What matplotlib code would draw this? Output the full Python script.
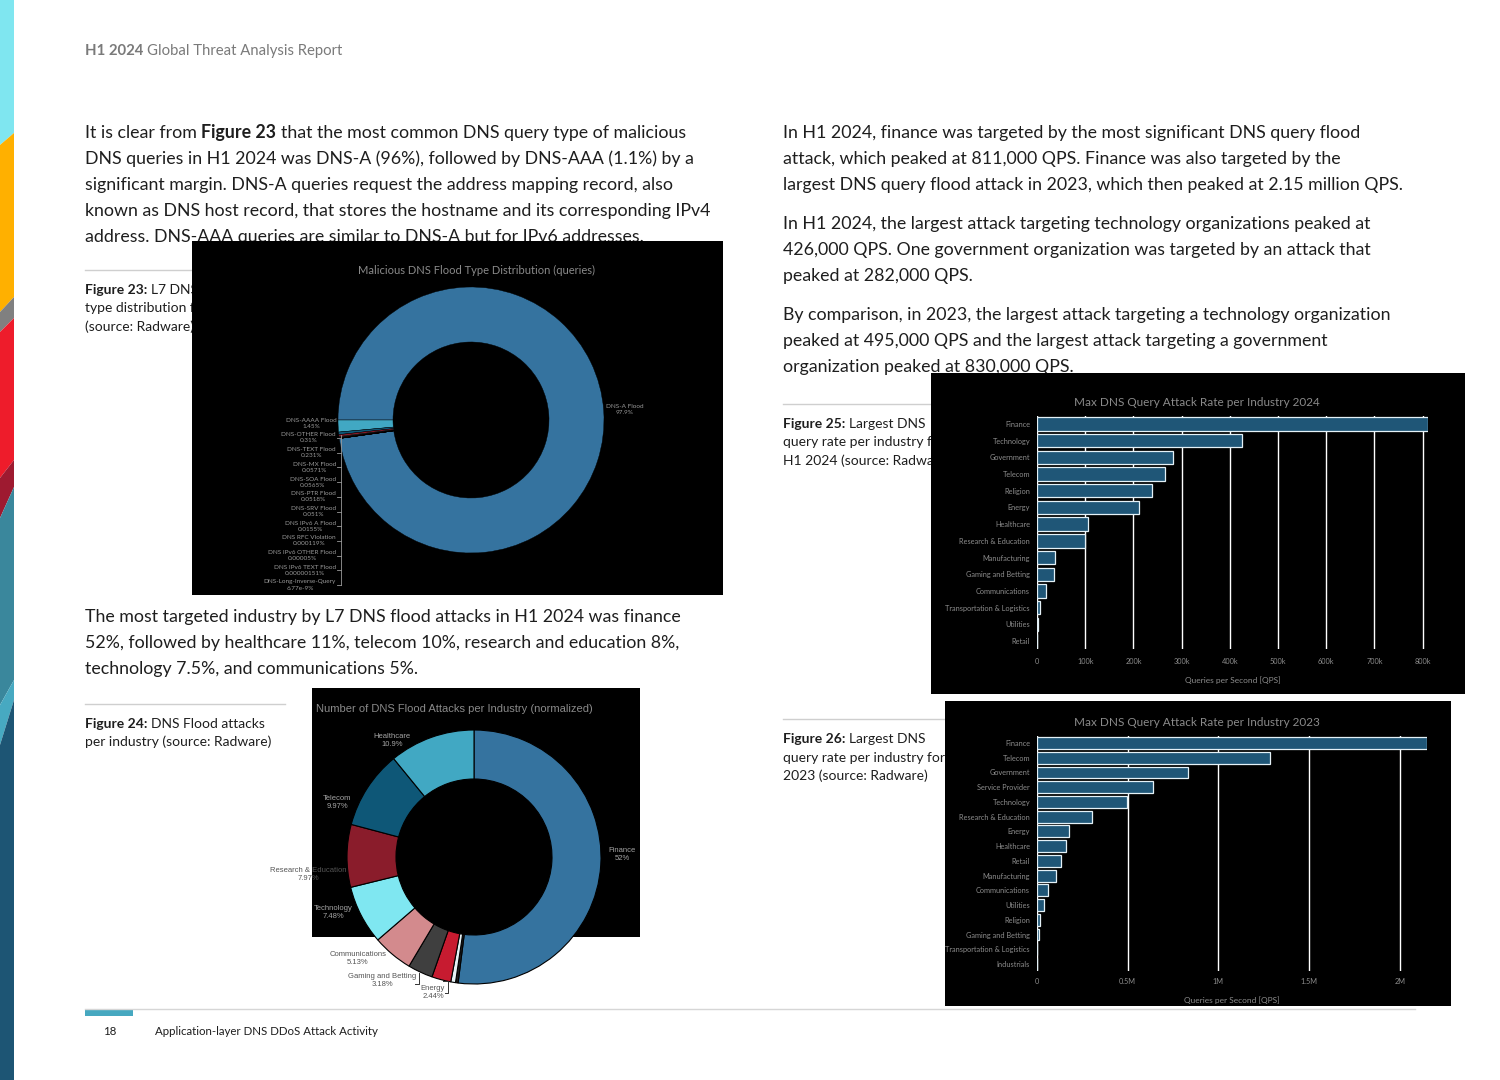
import matplotlib.pyplot as plt
from matplotlib.patches import Rectangle, Polygon

W, H = 1500, 1080
BODY = 'Lato'
INK = '#1e1e1e'
GREY = '#8c8c8c'

# Figure 23 - DNS flood types (share of queries, %)
dns_types = ['DNS-A Flood', 'DNS-AAAA Flood', 'DNS-OTHER Flood', 'DNS-TEXT Flood', 'DNS-MX Flood',
             'DNS-SOA Flood', 'DNS-PTR Flood', 'DNS-SRV Flood', 'DNS IPv6 A Flood', 'DNS RFC Violation',
             'DNS IPv6 OTHER Flood', 'DNS IPv6 TEXT Flood', 'DNS-Long-Inverse-Query']
dns_share = [97.9, 1.45, 0.31, 0.231, 0.0571, 0.0565, 0.0518, 0.051, 0.0155, 0.000119,
             0.00005, 0.00000151, 6.77e-9]
dns_pct = ['97.9%', '1.45%', '0.31%', '0.231%', '0.0571%', '0.0565%', '0.0518%', '0.051%',
           '0.0155%', '0.000119%', '0.00005%', '0.00000151%', '6.77e-9%']
palette = ['#35739f', '#41a8c3', '#0e5777', '#8a1c2b', '#7fe7f1', '#d38a8d', '#3f3f3f',
           '#c71b30', '#e6f2f5', '#1e1e1e', '#35739f', '#41a8c3', '#0e5777']

# Figure 24 - attacks per industry (normalized, %)
ind_names = ['Finance', 'Healthcare', 'Telecom', 'Research & Education', 'Technology',
             'Communications', 'Gaming and Betting', 'Energy', '', '']
ind_share = [52, 10.9, 9.97, 7.97, 7.48, 5.13, 3.18, 2.44, 0.6, 0.33]
ind_pct = ['52%', '10.9%', '9.97%', '7.97%', '7.48%', '5.13%', '3.18%', '2.44%', '', '']

# Figure 25 - max QPS per industry, H1 2024
ind24 = ['Finance', 'Technology', 'Government', 'Telecom', 'Religion', 'Energy', 'Healthcare',
         'Research & Education', 'Manufacturing', 'Gaming and Betting', 'Communications',
         'Transportation & Logistics', 'Utilities', 'Retail']
qps24 = [811000, 426000, 282000, 266000, 238000, 211000, 106000, 99000, 37500, 35500,
         19000, 5700, 2000, 600]
ticks24 = [0, 100000, 200000, 300000, 400000, 500000, 600000, 700000, 800000]
ticklab24 = ['0', '100k', '200k', '300k', '400k', '500k', '600k', '700k', '800k']

# Figure 26 - max QPS per industry, 2023
ind23 = ['Finance', 'Telecom', 'Government', 'Service Provider', 'Technology',
         'Research & Education', 'Energy', 'Healthcare', 'Retail', 'Manufacturing',
         'Communications', 'Utilities', 'Religion', 'Gaming and Betting',
         'Transportation & Logistics', 'Industrials']
qps23 = [2150000, 1286000, 830000, 638000, 495000, 304000, 177000, 161000, 133000, 106000,
         62000, 40000, 18000, 9000, 2000, 1000]
ticks23 = [0, 500000, 1000000, 1500000, 2000000]
ticklab23 = ['0', '0.5M', '1M', '1.5M', '2M']


def frac(x0, y0, x1, y1):
    return [x0 / W, 1 - y1 / H, (x1 - x0) / W, (y1 - y0) / H]


fig = plt.figure(figsize=(15, 10.8), dpi=100)
rend = fig.canvas.get_renderer()
pg = fig.add_axes([0, 0, 1, 1], zorder=0)
pg.set_xlim(0, W)
pg.set_ylim(H, 0)
pg.axis('off')

# coloured strip on the left edge
stripe_cols = ['#7fe6f0', '#ffb000', '#808080', '#ee1c2b', '#9e1a30', '#3a879c', '#47a9c1', '#1d5574']
cuts = [(0, 0), (133, 145), (297, 312), (318, 332), (460, 478), (487, 518), (680, 705), (700, 745), (H, H)]
for i, c in enumerate(stripe_cols):
    pg.add_patch(Polygon([(0, cuts[i][1]), (14, cuts[i][0]), (14, cuts[i + 1][0]), (0, cuts[i + 1][1])],
                         closed=True, color=c, lw=0))


def line(x, y, runs, size, color=INK, family=BODY):
    a = pg.text(0, 0, 'x x', fontsize=size, family=family)
    b = pg.text(0, 0, 'xx', fontsize=size, family=family)
    sp = a.get_window_extent(rend).width - b.get_window_extent(rend).width
    a.remove()
    b.remove()
    for s, bold in runs:
        t = pg.text(x, y, s, fontsize=size, color=color, family=family,
                    fontweight='bold' if bold else 'normal', va='baseline', zorder=2)
        x += t.get_window_extent(rend).width + sp


def para(x, y0, lines, size=12.8, step=26):
    for k, ln in enumerate(lines):
        runs = ln if isinstance(ln, list) else [(ln, False)]
        line(x, y0 + k * step, runs, size)


line(85, 55, [('H1 2024', True), ('Global Threat Analysis Report', False)], 10.7, color='#7a7a7a')

para(85, 138, [
    [('It is clear from', False), ('Figure 23', True), ('that the most common DNS query type of malicious', False)],
    'DNS queries in H1 2024 was DNS-A (96%), followed by DNS-AAA (1.1%) by a',
    'significant margin. DNS-A queries request the address mapping record, also',
    'known as DNS host record, that stores the hostname and its corresponding IPv4',
    'address. DNS-AAA queries are similar to DNS-A but for IPv6 addresses.'])
para(85, 622, [
    'The most targeted industry by L7 DNS flood attacks in H1 2024 was finance',
    '52%, followed by healthcare 11%, telecom 10%, research and education 8%,',
    'technology 7.5%, and communications 5%.'])
para(783, 138, [
    'In H1 2024, finance was targeted by the most significant DNS query flood',
    'attack, which peaked at 811,000 QPS. Finance was also targeted by the',
    'largest DNS query flood attack in 2023, which then peaked at 2.15 million QPS.'])
para(783, 229, [
    'In H1 2024, the largest attack targeting technology organizations peaked at',
    '426,000 QPS. One government organization was targeted by an attack that',
    'peaked at 282,000 QPS.'])
para(783, 320, [
    'By comparison, in 2023, the largest attack targeting a technology organization',
    'peaked at 495,000 QPS and the largest attack targeting a government',
    'organization peaked at 830,000 QPS.'])

# figure captions
caps = [
    (85, 270, 200, [[('Figure 23:', True), ('L7 DNS flood', False)], 'type distribution for H1 2024', '(source: Radware)']),
    (85, 704, 285, [[('Figure 24:', True), ('DNS Flood attacks', False)], 'per industry (source: Radware)']),
    (783, 404, 940, [[('Figure 25:', True), ('Largest DNS', False)], 'query rate per industry for', 'H1 2024 (source: Radware)']),
    (783, 719, 950, [[('Figure 26:', True), ('Largest DNS', False)], 'query rate per industry for', '2023 (source: Radware)']),
]
for x, y, x1, lns in caps:
    pg.plot([x, x1], [y, y], color='#cfcfcf', lw=1, zorder=1)
    para(x, y + 24, lns, size=10, step=18.5)

# footer
pg.plot([85, 1415], [1009, 1009], color='#d6d6d6', lw=1)
pg.add_patch(Rectangle((85, 1009), 48, 7, color='#46a8c0', lw=0))
pg.text(103, 1035, '18', fontsize=8.3, family=BODY, color=INK, va='baseline')
pg.text(155, 1035, 'Application-layer DNS DDoS Attack Activity', fontsize=8.3, family=BODY,
        color=INK, va='baseline')

# black chart backgrounds (cover the text they overlap)
for x0, y0, x1, y1 in [(192, 241, 723, 595), (312, 688, 640, 937), (931, 373, 1465, 694), (945, 701, 1451, 1006)]:
    pg.add_patch(Rectangle((x0, y0), x1 - x0, y1 - y0, color='black', lw=0, zorder=3))

pg.text(477, 270, 'Malicious DNS Flood Type Distribution (queries)', fontsize=8, family=BODY,
        color='#8a8a8a', ha='center', va='center', zorder=4)
pg.text(316, 709, 'Number of DNS Flood Attacks per Industry (normalized)', fontsize=8,
        family='Liberation Sans', color='#8a8a8a', ha='left', va='center', zorder=4)
pg.text(1197, 402, 'Max DNS Query Attack Rate per Industry 2024', fontsize=8.5, family=BODY,
        color='#8a8a8a', ha='center', va='center', zorder=4)
pg.text(1197, 722, 'Max DNS Query Attack Rate per Industry 2023', fontsize=8.5, family=BODY,
        color='#8a8a8a', ha='center', va='center', zorder=4)

# donuts on an overlay with y pointing up
ov = fig.add_axes([0, 0, 1, 1], zorder=3)
ov.set_facecolor('none')

start1 = 180 - 360 * dns_share[0] / sum(dns_share)
ov.pie(dns_share, colors=palette, startangle=start1, counterclock=True,
       center=(471, H - 420), radius=133,
       wedgeprops=dict(width=55, edgecolor='black', linewidth=0.3))
lab1 = '#9a9a9a'
ov.text(625, H - 409, dns_types[0] + '\n' + dns_pct[0], fontsize=4.6, family=BODY, color=lab1,
        ha='center', va='center', linespacing=1.25)
ov.text(337, H - 423, dns_types[1] + '\n' + dns_pct[1], fontsize=4.6, family=BODY, color=lab1,
        ha='right', va='center', multialignment='center', linespacing=1.25)
ys = [438 + 14.7 * k for k in range(len(dns_types) - 2)]
for k, yy in enumerate(ys):
    ov.text(336, H - yy, dns_types[k + 2] + '\n' + dns_pct[k + 2], fontsize=4.6, family=BODY,
            color=lab1, ha='right', va='center', multialignment='center', linespacing=1.25)
    ov.plot([337, 341], [H - yy, H - yy], color='#9a9a9a', lw=0.6)
ov.plot([341, 341], [H - 435, H - ys[-1]], color='#9a9a9a', lw=0.6)

order = [0] + list(range(len(ind_share) - 1, 0, -1))
ind_colors = palette[:len(ind_share)]
ov.pie([ind_share[i] for i in order], colors=[ind_colors[i] for i in order], startangle=90,
       counterclock=False, center=(474, H - 857), radius=127,
       wedgeprops=dict(width=49, edgecolor='black', linewidth=0.8))
lab_pos = [(622, 855, '#a5a5a5'), (392, 741, '#a5a5a5'), (337, 802, '#a5a5a5'), (308, 875, '#555555'),
           (333, 913, '#a5a5a5'), (358, 959, '#555555'), (382, 980, '#555555'), (433, 992, '#555555')]
for (x, y, c), n, p in zip(lab_pos, ind_names, ind_pct):
    ov.text(x, H - y, n + '\n' + p, fontsize=5.5, family='Liberation Sans', color=c,
            ha='center', va='center', linespacing=1.2)
ov.plot([419, 419, 415], [H - 973, H - 984, H - 984], color='#333333', lw=0.7)
ov.plot([443, 448, 448, 445], [H - 981, H - 981, H - 993, H - 993], color='#333333', lw=0.7)

ov.set_xlim(0, W)
ov.set_ylim(0, H)
ov.set_aspect('auto')
ov.axis('off')


def bars(rect, cats, vals, ticks, labels, pad, lpad):
    ax = fig.add_axes(frac(*rect), zorder=4)
    ax.set_facecolor('none')
    pos = list(range(len(cats)))
    ax.barh(pos, vals, height=0.8, color='#1f5677', edgecolor='#e4f1f7', linewidth=0.9, zorder=2)
    ax.set_xlim(0, max(vals))
    ax.set_ylim(len(cats) - 0.5, -0.5)
    ax.set_yticks(pos, cats, family=BODY)
    ax.set_xticks(ticks, labels, family=BODY)
    ax.tick_params(length=0, colors=GREY, labelsize=5.3, pad=pad)
    ax.tick_params(axis='y', pad=5)
    ax.grid(axis='x', color='white', lw=1)
    ax.set_axisbelow(True)
    for s in ax.spines.values():
        s.set_visible(False)
    ax.set_xlabel('Queries per Second [QPS]', color=GREY, fontsize=6, family=BODY, labelpad=lpad)
    return ax


bars((1037, 415.6, 1428, 649.4), ind24, qps24, ticks24, ticklab24, 6, 8)
bars((1037, 735.6, 1427, 971.4), ind23, qps23, ticks23, ticklab23, 5, 8)

fig.savefig('out.png', dpi=100)
